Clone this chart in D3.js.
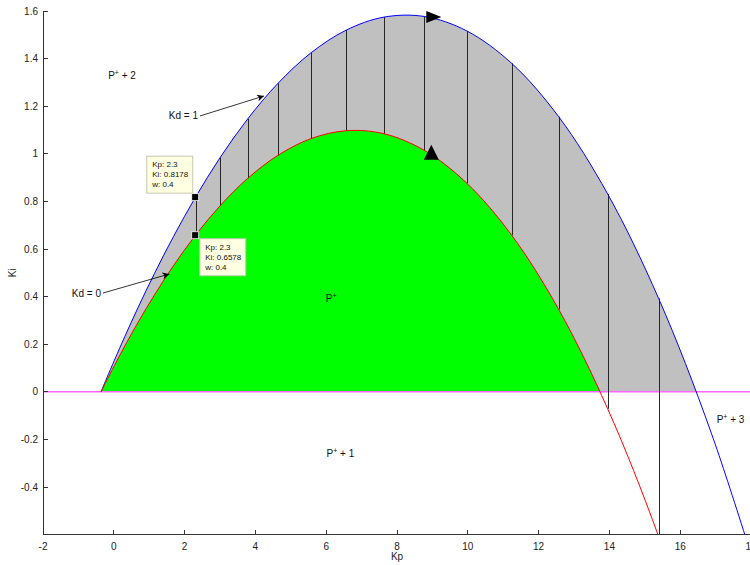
<!DOCTYPE html>
<html>
<head>
<meta charset="utf-8">
<script src="https://cdn.jsdelivr.net/npm/d3@7"></script>
<style>
  html, body { margin: 0; padding: 0; background: #fff; }
  svg { display: block; font-family: "Liberation Sans", Arial, Helvetica, sans-serif; }
</style>
</head>
<body>
<svg id="chart" width="750" height="565"></svg>
<script>
// Stability boundaries in the (Kp, Ki) plane, parametrised by frequency w.
const omega  = [0, 0.05, 0.1, 0.15, 0.2, 0.25, 0.3, 0.35, 0.4, 0.45, 0.5, 0.55, 0.6, 0.65, 0.7, 0.75, 0.8, 0.85, 0.9, 0.95, 1.0, 1.05, 1.1];
const kp     = [-0.36, -0.318, -0.192, 0.019, 0.312, 0.689, 1.148, 1.688, 2.308, 3.007, 3.784, 4.637, 5.563, 6.563, 7.632, 8.770, 9.973, 11.240, 12.567, 13.951, 15.390, 16.880, 18.418];
const kiKd0  = [0, 0.0126, 0.0499, 0.1107, 0.1926, 0.2927, 0.4069, 0.5305, 0.6578, 0.7824, 0.8970, 0.9935, 1.0634, 1.0970, 1.0843, 1.0145, 0.8762, 0.6575, 0.3460, -0.0713, -0.6075, -1.2764, -2.0918];
const kiKd1  = [0, 0.0151, 0.0599, 0.1332, 0.2326, 0.3552, 0.4969, 0.6530, 0.8178, 0.9849, 1.1470, 1.2960, 1.4234, 1.5195, 1.5743, 1.5770, 1.5162, 1.3800, 1.1560, 0.8312, 0.3925, -0.1739, -0.8818];

// Frequencies joined by constant-w segments (Kd = 0 to Kd = 1).
const hatchOmega = [0.4, 0.45, 0.5, 0.55, 0.6, 0.65, 0.7, 0.75, 0.8, 0.85, 0.9, 0.95, 1.0];

// Axis ticks.
const kpTicks = [-2, 0, 2, 4, 6, 8, 10, 12, 14, 16, 18];
const kpTickLabels = ["-2", "0", "2", "4", "6", "8", "10", "12", "14", "16", "18"];
const kiTicks = [-0.4, -0.2, 0, 0.2, 0.4, 0.6, 0.8, 1, 1.2, 1.4, 1.6];
const kiTickLabels = ["-0.4", "-0.2", "0", "0.2", "0.4", "0.6", "0.8", "1", "1.2", "1.4", "1.6"];

// Region labels (number of roots in the right half plane).
const regionNames = ["P", "P", "P", "P"];
const regionSuffix = [" + 2", "", " + 1", " + 3"];
const regionKp = [-0.16, 5.99, 6.01, 17.03];
const regionKi = [1.314, 0.379, -0.276, -0.131];

// Curve annotations.
const noteText = ["Kd = 1", "Kd = 0"];
const noteTailKp = [2.435, -0.305];
const noteTailKi = [1.159, 0.415];
const noteTipKp = [4.243, 1.568];
const noteTipKi = [1.243, 0.495];

// Data tips at w = 0.4.
const tipKp = [2.3, 2.3];
const tipKi = [0.8178, 0.6578];
const tipW = [0.4, 0.4];

// Direction markers on each curve.
const dirKp = [8.97, 8.97];
const dirKi = [1.575, 1.0];
const dirKind = ["right", "up"];

const svg = d3.select("#chart");
const W = 750, H = 565;
svg.append("rect").attr("width", W).attr("height", H).attr("fill", "#fff");

const x = d3.scaleLinear().domain([-2, 18]).range([43, 751]);
const y = d3.scaleLinear().domain([-0.6, 1.6]).range([534.6, 11]);

const defs = svg.append("defs");
defs.append("clipPath").attr("id", "plot")
  .append("rect").attr("x", x(-2)).attr("y", 0).attr("width", x(18) - x(-2)).attr("height", y(-0.6));
defs.append("clipPath").attr("id", "upper")
  .append("rect").attr("x", x(-2)).attr("y", 0).attr("width", x(18) - x(-2)).attr("height", y(0));
defs.append("marker").attr("id", "head")
  .attr("viewBox", "0 0 10 10").attr("refX", 10).attr("refY", 5)
  .attr("markerWidth", 9).attr("markerHeight", 7).attr("markerUnits", "userSpaceOnUse")
  .attr("orient", "auto")
  .append("path").attr("d", "M0,0 L10,5 L0,10 L3,5 Z").attr("fill", "#000");

const pts0 = omega.map((w, i) => ({ w, kp: kp[i], ki: kiKd0[i] }));
const pts1 = omega.map((w, i) => ({ w, kp: kp[i], ki: kiKd1[i] }));

const area = d3.area().x(d => x(d.kp)).y0(y(0)).y1(d => y(d.ki)).curve(d3.curveCatmullRom);
const line = d3.line().x(d => x(d.kp)).y(d => y(d.ki)).curve(d3.curveCatmullRom);

const fills = svg.append("g").attr("clip-path", "url(#upper)");
fills.append("path").datum(pts1).attr("d", area).attr("fill", "#c0c0c0");
fills.append("path").datum(pts0).attr("d", area).attr("fill", "#00ff00");

const plot = svg.append("g").attr("clip-path", "url(#plot)");

// Ki = 0 reference line
plot.append("line")
  .attr("x1", x(-2)).attr("x2", x(18)).attr("y1", y(0)).attr("y2", y(0))
  .attr("stroke", "#ff66ff").attr("stroke-width", 1.6);

// constant-w segments
plot.selectAll("line.hatch")
  .data(hatchOmega.map(w => omega.findIndex(o => Math.abs(o - w) < 1e-9)))
  .join("line").attr("class", "hatch")
  .attr("x1", i => Math.round(x(kp[i])) + 0.5).attr("x2", i => Math.round(x(kp[i])) + 0.5)
  .attr("y1", i => y(kiKd1[i])).attr("y2", i => y(kiKd0[i]))
  .attr("stroke", "#262626").attr("stroke-width", 1);

plot.append("path").datum(pts1).attr("d", line).attr("fill", "none").attr("stroke", "#0000ff").attr("stroke-width", 1);
plot.append("path").datum(pts0).attr("d", line).attr("fill", "none").attr("stroke", "#ff0000").attr("stroke-width", 1);

// direction markers
const tri = { right: "M10,0 L-5,-6 L-5,6 Z", up: "M0,-9 L7.5,6 L-7.5,6 Z" };
svg.selectAll("path.dir").data(dirKp.map((k, i) => i)).join("path").attr("class", "dir")
  .attr("transform", i => `translate(${x(dirKp[i])},${y(dirKi[i])})`)
  .attr("d", i => tri[dirKind[i]]).attr("fill", "#000");

// axes
const axisColor = "#333";
const ax = svg.append("g").attr("shape-rendering", "crispEdges");
ax.append("line").attr("x1", x(-2)).attr("x2", x(-2)).attr("y1", y(1.6)).attr("y2", y(-0.6)).attr("stroke", axisColor);
ax.append("line").attr("x1", x(-2)).attr("x2", x(18)).attr("y1", y(-0.6)).attr("y2", y(-0.6)).attr("stroke", axisColor);
ax.selectAll("line.xt").data(kpTicks).join("line").attr("class", "xt")
  .attr("x1", d => x(d)).attr("x2", d => x(d)).attr("y1", y(-0.6)).attr("y2", y(-0.6) - 5).attr("stroke", axisColor);
ax.selectAll("line.yt").data(kiTicks).join("line").attr("class", "yt")
  .attr("x1", x(-2)).attr("x2", x(-2) + 5).attr("y1", d => y(d)).attr("y2", d => y(d)).attr("stroke", axisColor);

svg.selectAll("text.xl").data(kpTicks).join("text").attr("class", "xl")
  .attr("x", d => x(d)).attr("y", y(-0.6) + 15).attr("text-anchor", "middle")
  .attr("font-size", 10).attr("fill", "#222").text((d, i) => kpTickLabels[i]);
svg.selectAll("text.yl").data(kiTicks).join("text").attr("class", "yl")
  .attr("x", x(-2) - 5).attr("y", d => y(d) + 3.5).attr("text-anchor", "end")
  .attr("font-size", 10).attr("fill", "#222").text((d, i) => kiTickLabels[i]);

svg.append("text").attr("x", (x(-2) + x(18)) / 2).attr("y", 560).attr("text-anchor", "middle")
  .attr("font-size", 10).attr("fill", "#222").text("Kp");
svg.append("text").attr("transform", `translate(16,${(y(1.6) + y(-0.6)) / 2}) rotate(-90)`)
  .attr("text-anchor", "middle").attr("font-size", 10).attr("fill", "#222").text("Ki");

// region labels
regionNames.forEach((n, i) => {
  const t = svg.append("text").attr("x", x(regionKp[i])).attr("y", y(regionKi[i]))
    .attr("font-size", 10).attr("fill", "#111");
  t.append("tspan").text(n);
  t.append("tspan").attr("dy", -4).attr("font-size", 7).text("+");
  if (regionSuffix[i]) t.append("tspan").attr("dy", 4).text(regionSuffix[i]);
});

// curve annotations
noteText.forEach((s, i) => {
  svg.append("line")
    .attr("x1", x(noteTailKp[i])).attr("y1", y(noteTailKi[i]))
    .attr("x2", x(noteTipKp[i])).attr("y2", y(noteTipKi[i]))
    .attr("stroke", "#000").attr("stroke-width", 0.8).attr("marker-end", "url(#head)");
  svg.append("text").attr("x", x(noteTailKp[i]) - 2).attr("y", y(noteTailKi[i]) + 3.5)
    .attr("text-anchor", "end").attr("font-size", 10).attr("fill", "#111").text(s);
});

// data tips
const boxOffset = [[-49, -41.5], [4, 3]];
tipKp.forEach((k, i) => {
  const cx = x(k), cy = y(tipKi[i]);
  const g = svg.append("g").attr("transform", `translate(${cx + boxOffset[i][0]},${cy + boxOffset[i][1]})`);
  g.append("rect").attr("x", 0.5).attr("y", 0.5).attr("width", 46).attr("height", 37)
    .attr("fill", "#ffffe1").attr("stroke", "#c8c8b4").attr("stroke-width", 1);
  const lines = [`Kp: ${k}`, `Ki: ${tipKi[i]}`, `w: ${tipW[i]}`];
  lines.forEach((s, j) => g.append("text").attr("x", 6).attr("y", 11.5 + j * 10)
    .attr("font-size", 8).attr("fill", "#111").text(s));
  svg.append("rect").attr("x", cx - 3.5).attr("y", cy - 3.5).attr("width", 7).attr("height", 7)
    .attr("fill", "#000").attr("stroke", "#fff").attr("stroke-width", 0.8);
});
</script>
</body>
</html>
